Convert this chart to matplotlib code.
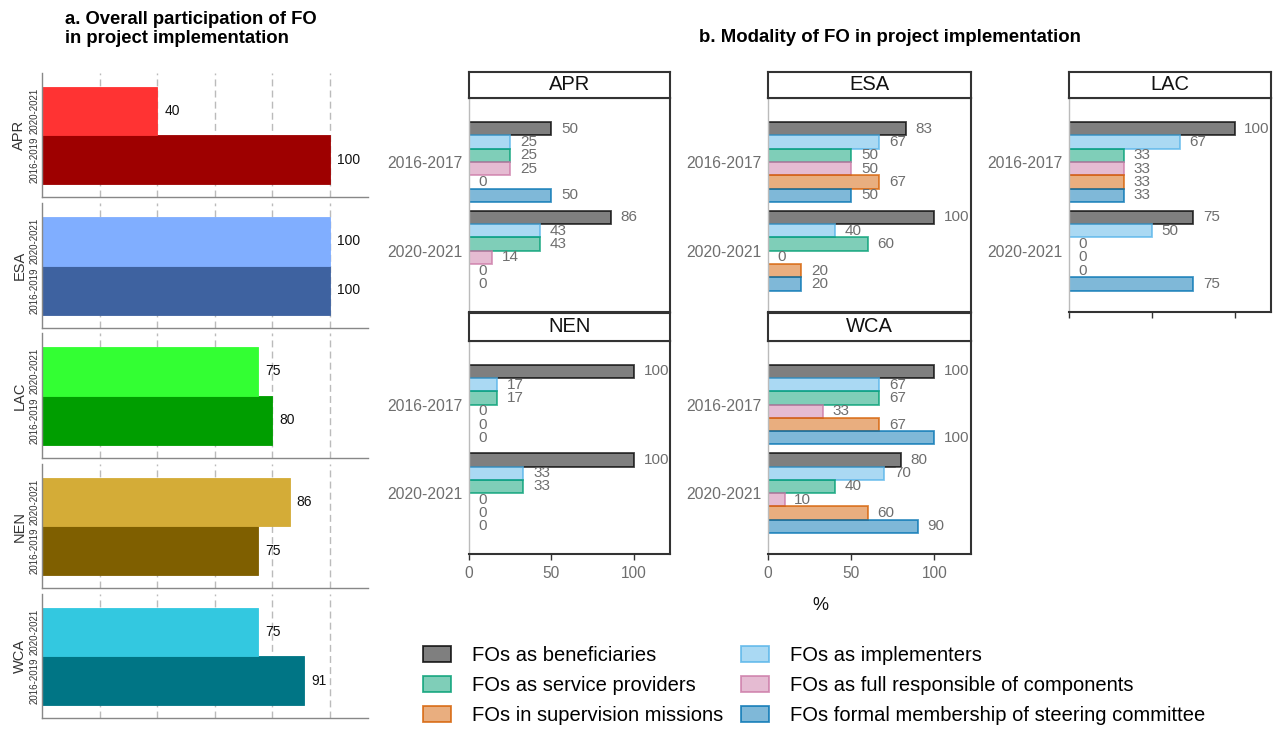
import numpy as np
import matplotlib.pyplot as plt
import matplotlib.transforms as mtransforms
from matplotlib.colors import to_rgba
from matplotlib.patches import Patch

plt.rcParams['font.family'] = ['Liberation Sans', 'DejaVu Sans']

W, H = 1277, 731

# --- a. overall participation of FO ---
regions = ['APR', 'ESA', 'LAC', 'NEN', 'WCA']
overall_periods = ['2016-2019', '2020-2021']
overall_2016_2019 = [100, 100, 80, 75, 91]
overall_2020_2021 = [40, 100, 75, 86, 75]
colors_2016_2019 = ['#9E0000', '#3E62A0', '#009E00', '#7F5F00', '#007585']
colors_2020_2021 = ['#FF3333', '#80AEFF', '#33FF33', '#D4AC37', '#33C8E0']

# --- b. modality of FO ---
modalities = ['FOs as beneficiaries', 'FOs as implementers',
              'FOs as service providers', 'FOs as full responsible of components',
              'FOs in supervision missions', 'FOs formal membership of steering committee']
modality_colors = ['#000000', '#56B4E9', '#009E73', '#CC79A7', '#D55E00', '#0072B2']
periods = ['2016-2017', '2020-2021']

apr_2016_2017 = [50, 25, 25, 25, 0, 50]
apr_2020_2021 = [86, 43, 43, 14, 0, 0]
esa_2016_2017 = [83, 67, 50, 50, 67, 50]
esa_2020_2021 = [100, 40, 60, 0, 20, 20]
lac_2016_2017 = [100, 67, 33, 33, 33, 33]
lac_2020_2021 = [75, 50, 0, 0, 0, 75]
nen_2016_2017 = [100, 17, 17, 0, 0, 0]
nen_2020_2021 = [100, 33, 33, 0, 0, 0]
wca_2016_2017 = [100, 67, 67, 33, 67, 100]
wca_2020_2021 = [80, 70, 40, 10, 60, 90]

modality_data = {
    'APR': (apr_2016_2017, apr_2020_2021),
    'ESA': (esa_2016_2017, esa_2020_2021),
    'LAC': (lac_2016_2017, lac_2020_2021),
    'NEN': (nen_2016_2017, nen_2020_2021),
    'WCA': (wca_2016_2017, wca_2020_2021),
}

fig = plt.figure(figsize=(W / 100, H / 100), dpi=100)


def px_axes(x0, y0, x1, y1):
    # axes placed by pixel box (top-left origin)
    return fig.add_axes([x0 / W, 1 - y1 / H, (x1 - x0) / W, (y1 - y0) / H])


# ---------------- panel a ----------------
a_rows = [(73, 197), (203, 328), (333, 458), (464, 588), (594, 718)]
for i, reg in enumerate(regions):
    ax = px_axes(42, a_rows[i][0], 368, a_rows[i][1])
    vals = [overall_2016_2019[i], overall_2020_2021[i]]
    cols = [colors_2016_2019[i], colors_2020_2021[i]]
    ax.barh([0, 1], vals, height=1, color=cols, edgecolor=cols, lw=0.6)
    off = mtransforms.offset_copy(ax.transData, fig=fig, x=5, y=0, units='points')
    for y, v in zip([0, 1], vals):
        ax.text(v, y, str(v), transform=off, ha='left', va='center',
                fontsize=10, color='#111111')
    ax.set_xlim(0, 113.2)
    ax.set_ylim(-0.77, 1.78)
    ax.set_xticks([20, 40, 60, 80, 100])
    ax.grid(axis='x', color='#BBBBBB', lw=1, ls=(0, (5, 3)))
    ax.set_axisbelow(True)
    ax.tick_params(axis='x', length=0, labelbottom=False)
    ax.set_yticks([0, 1])
    ax.set_yticklabels(overall_periods, rotation=90, va='center',
                       fontsize=7, color='#333333')
    ax.tick_params(axis='y', length=0, pad=2)
    ax.set_ylabel(reg, fontsize=10.5, color='#333333', labelpad=2)
    for s in ['top', 'right']:
        ax.spines[s].set_visible(False)
    for s in ['left', 'bottom']:
        ax.spines[s].set_color('#888888')
        ax.spines[s].set_linewidth(1)

fig.text(65 / W, 1 - 11 / H, 'a. Overall participation of FO\nin project implementation',
         ha='left', va='top', fontsize=13.3, fontweight='bold', linespacing=1.15)

# ---------------- panel b ----------------
b_cols = [(469, 670), (768, 971), (1069, 1271)]
b_rows = [(72, 98, 312), (313, 341, 554)]
bar_h = 0.15
n_mod = len(modalities)

for k, reg in enumerate(regions):
    r, c = divmod(k, 3)
    x0, x1 = b_cols[c]
    s0, p0, p1 = b_rows[r]
    ax = px_axes(x0, p0, x1, p1)
    off = mtransforms.offset_copy(ax.transData, fig=fig, x=7, y=0, units='points')
    for j, vals in enumerate(modality_data[reg]):
        ys = j - 0.45 + bar_h / 2 + np.arange(n_mod) * bar_h
        for m in range(n_mod):
            if vals[m] > 0:
                ax.barh(ys[m], vals[m], height=bar_h,
                        facecolor=to_rgba(modality_colors[m], 0.5),
                        edgecolor=to_rgba(modality_colors[m], 0.75), lw=1.3)
            ax.text(vals[m], ys[m], str(vals[m]), transform=off, ha='left',
                    va='center', fontsize=11, color='#6E6E6E', clip_on=True)
    ax.set_xlim(0, 122)
    ax.set_ylim(1.69, -0.72)
    ax.set_yticks([0, 1])
    ax.set_yticklabels(periods, fontsize=11.3, color='#6E6E6E')
    ax.tick_params(axis='y', length=0, pad=5)
    ax.set_xticks([0, 50, 100])
    ax.tick_params(axis='x', length=4, width=1, color='#333333',
                   labelsize=11.2, labelcolor='#6E6E6E', pad=5)
    if r == 0:
        ax.tick_params(axis='x', labelbottom=False, length=4 if c == 2 else 0)
    ax.spines['left'].set_color('#BBBBBB')
    ax.spines['left'].set_linewidth(1)
    for s in ['right', 'top', 'bottom']:
        ax.spines[s].set_color('#333333')
        ax.spines[s].set_linewidth(1.5)

    # facet strip
    sx = px_axes(x0, s0, x1, p0)
    sx.set_xticks([])
    sx.set_yticks([])
    for s in sx.spines.values():
        s.set_color('#333333')
        s.set_linewidth(1.5)
    sx.text(0.5, 0.5, reg, ha='center', va='center', fontsize=14.5,
            color='#111111', transform=sx.transAxes)

fig.text(890 / W, 1 - 37 / H, 'b. Modality of FO in project implementation',
         ha='center', va='center', fontsize=13.4, fontweight='bold')
fig.text(820 / W, 1 - 605 / H, '%', ha='center', va='center', fontsize=13,
         color='#111111')

# legend, filled row by row
handles = [Patch(facecolor=to_rgba(col, 0.5), edgecolor=to_rgba(col, 0.8), lw=1.3)
           for col in modality_colors]
order = [0, 2, 4, 1, 3, 5]
fig.legend([handles[i] for i in order], [modalities[i] for i in order],
           ncol=2, loc='upper left', bbox_to_anchor=(423 / W, 1 - 646 / H),
           frameon=False, fontsize=14.5, borderpad=0, borderaxespad=0,
           handlelength=1.4, handleheight=0.8, handletextpad=1.05,
           columnspacing=0.85, labelspacing=0.55)

fig.savefig('out.png', dpi=100)
